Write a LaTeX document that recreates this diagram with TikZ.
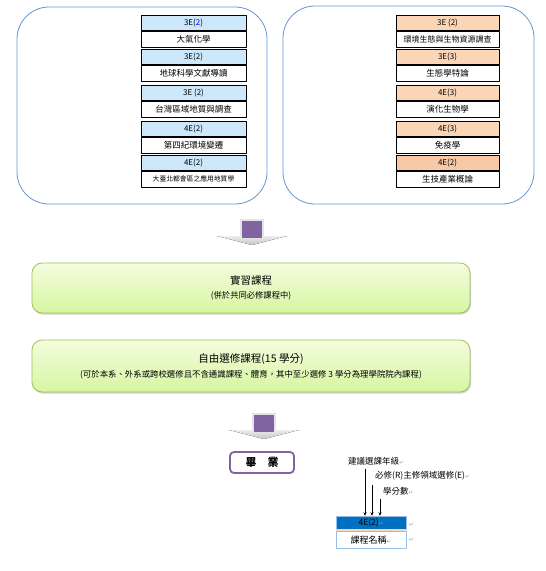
\documentclass[tikz,border=0pt]{standalone}
\usepackage{fontspec}
\setmainfont{Noto Sans CJK TC}
\newfontfamily\symfont{DejaVu Sans}
\usetikzlibrary{shadows,arrows.meta}
\definecolor{grpblue}{RGB}{102,146,214}
\definecolor{hdrblue}{RGB}{204,232,250}
\definecolor{hdrorange}{RGB}{251,214,182}
\definecolor{hdrorangeb}{RGB}{247,201,166}
\definecolor{greenedge}{RGB}{160,192,90}
\definecolor{greentop}{RGB}{244,252,222}
\definecolor{greenbot}{RGB}{214,246,160}
\definecolor{arrowpurple}{RGB}{128,100,162}
\definecolor{legblue}{RGB}{0,112,192}
\definecolor{legedge}{RGB}{150,190,230}
\definecolor{retgray}{RGB}{150,150,150}
\newcommand{\retmark}{\textcolor{retgray}{\symfont\fontsize{5.5}{6}\selectfont ↵}}
\tikzset{
  group/.style={draw=grpblue, line width=0.8pt, rounded corners=32pt},
  hdr/.style={draw, line width=0.8pt, minimum height=15pt, inner sep=0pt, anchor=north, font=\fontsize{8}{9}\selectfont},
  body/.style={draw, line width=0.8pt, fill=white, minimum height=16pt, inner sep=0pt, anchor=north, font=\fontsize{8.5}{9}\selectfont},
  stage/.style={draw=greenedge, line width=0.8pt, rounded corners=10pt, top color=greentop, bottom color=greenbot,
    drop shadow={shadow xshift=1pt, shadow yshift=-1.5pt, fill=black!35}, minimum width=438pt, align=center},
  keytext/.style={anchor=west, inner sep=0pt, font=\fontsize{8.5}{9}\selectfont}
}
\begin{document}
\begin{tikzpicture}[x=1pt, y=-1pt, font=\fontsize{8}{9}\selectfont, line join=round, >={Stealth[length=3.5pt,width=3pt]}]
\useasboundingbox (0,0) rectangle (546,571);
% two groups of elective courses
\draw[group] (17,7) rectangle (267,204);
\draw[group] (283,6) rectangle (534,204);
\foreach \y/\code/\title [count=\i] in {15/{3E(\textcolor{blue}{2})}/大氣化學, 49/3E(2)/地球科學文獻導讀, 85/3E (2)/台灣區域地質與調查,
    121/4E(2)/第四紀環境變遷, 155/4E(2)/{\fontsize{6.8}{7}\selectfont 大臺北都會區之應用地質學}}{
  \node[hdr, fill=hdrblue, minimum width=105pt] (L\i h) at (193.5,\y) {\code};
  \node[body, minimum width=105pt] (L\i b) at (L\i h.south) {\title};
}
\foreach \y/\code/\title/\col [count=\i] in {15/3E (2)/{\fontsize{8}{8}\selectfont 環境生態與生物資源調查}/hdrorange, 49/3E(3)/生態學特論/hdrorange,
    85/4E(3)/演化生物學/hdrorange, 121/4E(3)/免疫學/hdrorange, 155/4E(2)/生技產業概論/hdrorangeb}{
  \node[hdr, fill=\col, minimum width=103pt] (R\i h) at (447.5,\y) {\code};
  \node[body, minimum width=103pt] (R\i b) at (R\i h.south) {\title};
}
% block arrows
\foreach \x/\y in {252/219, 264/413}{
  \fill[top color=gray!15, bottom color=gray!45] (\x-35,\y+17) -- (\x+35,\y+17) -- (\x,\y+26) -- cycle;
  \fill[gray!20] (\x-12,\y) rectangle (\x+12,\y+17);
  \fill[arrowpurple] (\x-10,\y+2) rectangle (\x+10,\y+19);
}
% stages
\node[stage, minimum height=50pt] (practice) at (251,288)
  {{\fontsize{10.5}{11}\selectfont 實習課程}\\[5pt]{\fontsize{8.3}{9}\selectfont (併於共同必修課程中)}};
\node[stage, minimum height=52pt] (free) at (251,366)
  {{\fontsize{10.5}{11}\selectfont 自由選修課程(15 學分)}\\[5pt]{\fontsize{8.4}{9}\selectfont (可於本系、外系或跨校選修且不含通識課程、體育，其中至少選修 3 學分為理學院院內課程)}};
\node[draw=arrowpurple, line width=1.8pt, rounded corners=4pt, fill=white, minimum width=64pt, minimum height=21pt,
  font=\fontsize{11}{12}\selectfont\bfseries] (grad) at (262,462.5) {畢\hspace{1em}業};
% legend
\node[fill=legblue, draw=legedge, minimum width=70pt, minimum height=13pt, inner sep=0pt, font=\fontsize{8.5}{9}\selectfont] (keyh) at (371,522.5) {4E(2)\retmark};
\fill[hdrorange] (keyh.south west) rectangle ++(70,2);
\node[draw=legedge, minimum width=70pt, minimum height=17pt, inner sep=0pt, anchor=north, font=\fontsize{9}{10}\selectfont] (keyb) at ([yshift=-2pt]keyh.south) {課程名稱\retmark};
\node[anchor=west, inner sep=0pt] (keyhr) at (409,525) {\retmark};
\node[anchor=west, inner sep=0pt] (keybr) at (409,540) {\retmark};
\node[keytext] (year) at (348,461) {建議選課年級\retmark};
\node[keytext] (kind) at (375,476) {必修(R)主修領域選修(E)\retmark};
\node[keytext] (credit) at (383,491) {學分數\retmark};
\coordinate (a1) at (365,469);
\coordinate (a2) at (372,485);
\coordinate (a3) at (380,499);
\draw[->, line width=0.6pt] (a1) -- (a1 |- keyh.north);
\draw[->, line width=0.6pt] (a2) -- (a2 |- keyh.north);
\draw[->, line width=0.6pt] (a3) -- (a3 |- keyh.north);
\end{tikzpicture}
\end{document}
